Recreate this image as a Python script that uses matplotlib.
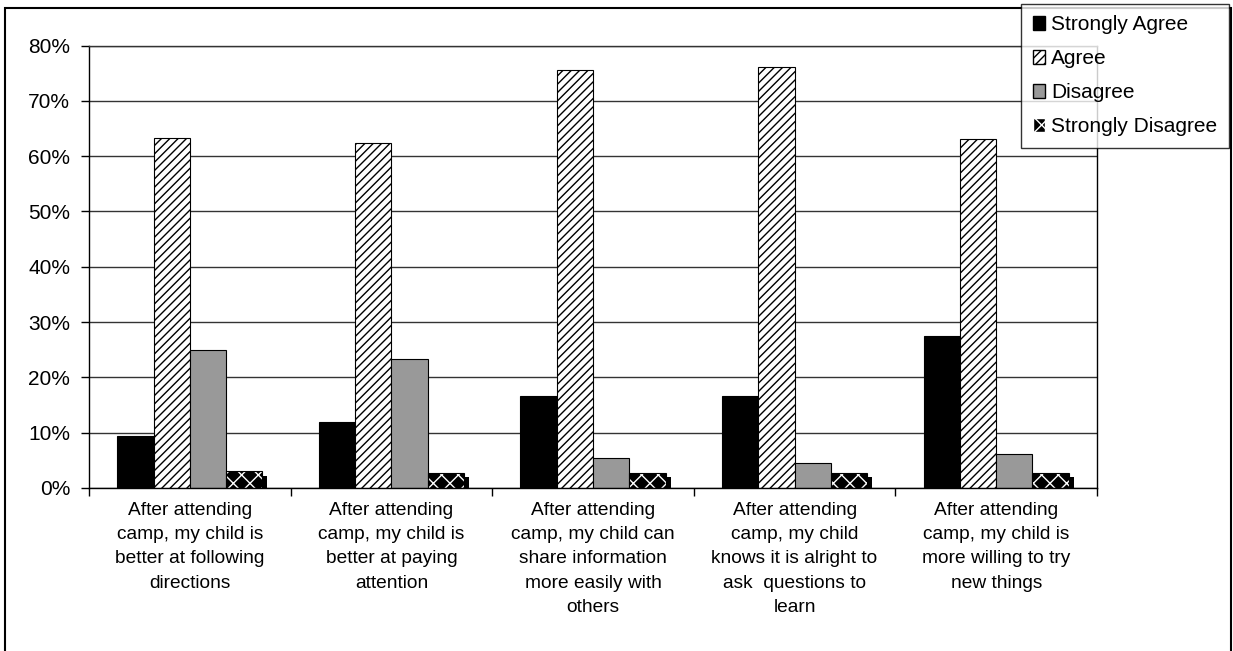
import numpy as np
import matplotlib.pyplot as plt
from matplotlib.patches import Rectangle

plt.rcParams['font.family'] = ['Liberation Sans', 'DejaVu Sans']
plt.rcParams['hatch.linewidth'] = 1.0

# survey statements and answer shares (%)
categories = [
    "After attending\ncamp, my child is\nbetter at following\ndirections",
    "After attending\ncamp, my child is\nbetter at paying\nattention",
    "After attending\ncamp, my child can\nshare information\nmore easily with\nothers",
    "After attending\ncamp, my child\nknows it is alright to\nask  questions to\nlearn",
    "After attending\ncamp, my child is\nmore willing to try\nnew things",
]
strongly_agree = [9.4, 12.0, 16.7, 16.7, 27.5]
agree = [63.2, 62.3, 75.6, 76.2, 63.1]
disagree = [25.0, 23.3, 5.4, 4.5, 6.2]
strongly_disagree = [3.0, 2.7, 2.7, 2.7, 2.8]
yticks = [0, 10, 20, 30, 40, 50, 60, 70, 80]

fig = plt.figure(figsize=(12.33, 6.51), dpi=100)
ax = fig.add_axes([0.0722, 0.2504, 0.8175, 0.6796])

x = np.arange(len(categories))
w = 0.18
off = [-1.5 * w, -0.5 * w, 0.5 * w, 1.5 * w]

ax.set_axisbelow(True)
ax.yaxis.grid(True, color='#333333', linewidth=1.0)

ax.bar(x + off[0], strongly_agree, w, color='black', edgecolor='black',
       linewidth=0.8, label='Strongly Agree')
ax.bar(x + off[1], agree, w, color='white', edgecolor='black', hatch='////',
       linewidth=0.8, label='Agree')
ax.bar(x + off[2], disagree, w, color='#999999', edgecolor='black',
       linewidth=0.8, label='Disagree')
# strongly disagree: shadow, black fill with white pattern, outline
sd = np.array(strongly_disagree)
ax.bar(x + off[3] + 0.025, sd - 0.8, w, color='black', linewidth=0)
ax.bar(x + off[3], sd, w, color='black', edgecolor='white', hatch='xx',
       linewidth=0)
ax.bar(x + off[3], sd, w, fill=False, edgecolor='black', linewidth=0.8)

ax.set_xlim(-0.5, len(categories) - 0.5)
ax.set_ylim(0, 80)
ax.set_yticks(yticks)
ax.set_yticklabels([f"{t}%" for t in yticks], fontsize=15)
ax.set_xticks(np.arange(len(categories) + 1) - 0.5, minor=False)
ax.set_xticklabels([])
ax.set_xticks(x, minor=True)
ax.set_xticklabels(categories, minor=True, fontsize=13.8, linespacing=1.56)
ax.tick_params(axis='x', which='minor', length=0, pad=10)
ax.tick_params(axis='x', which='major', length=6, width=1, direction='out')
ax.tick_params(axis='y', length=6, width=1, direction='out', pad=7.5)
for s in ax.spines.values():
    s.set_color('black')
    s.set_linewidth(1.0)
ax.spines['top'].set_color('#333333')

# outer chart border
fig.patches.append(Rectangle((5 / 1233, -0.1), 1226 / 1233, 1 - 8 / 651 + 0.1,
                             transform=fig.transFigure, fill=False,
                             edgecolor='black', linewidth=1.5))

sa_h = Rectangle((0, 0), 1, 1, facecolor='black', edgecolor='black')
ag_h = Rectangle((0, 0), 1, 1, facecolor='white', edgecolor='black', hatch='////')
di_h = Rectangle((0, 0), 1, 1, facecolor='#999999', edgecolor='black')
sd_h = Rectangle((0, 0), 1, 1, facecolor='black', edgecolor='white', hatch='xx')
leg = fig.legend([sa_h, ag_h, di_h, sd_h],
                 ['Strongly Agree', 'Agree', 'Disagree', 'Strongly Disagree'],
                 loc='upper right', bbox_to_anchor=(1229 / 1233, 1 - 4 / 651),
                 fontsize=15, frameon=True, fancybox=False, borderpad=0.55,
                 handlelength=0.6, handleheight=0.6, handletextpad=0.3,
                 labelspacing=0.72, borderaxespad=0)
leg.get_frame().set_edgecolor('black')
leg.get_frame().set_linewidth(1.0)

fig.savefig('out.png', dpi=100)
